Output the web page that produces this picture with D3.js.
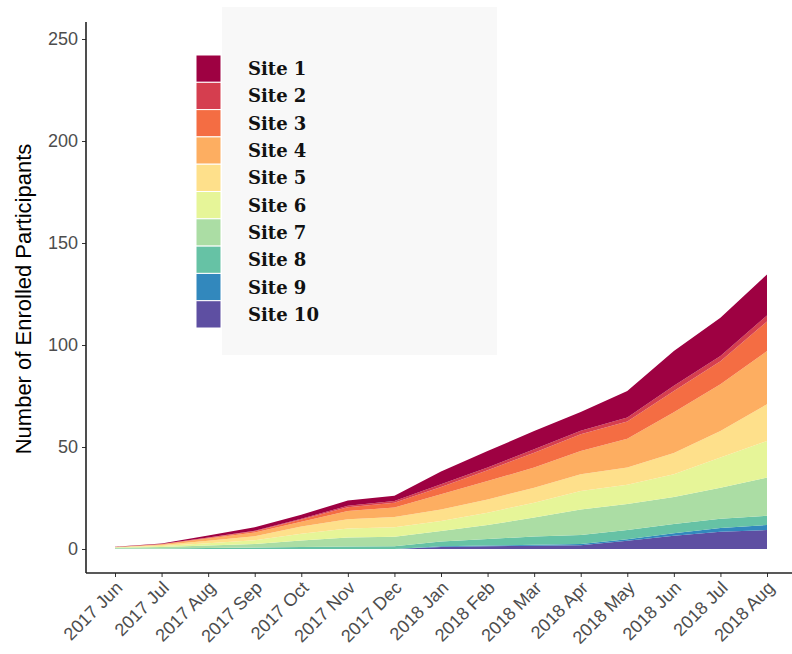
<!DOCTYPE html>
<html>
<head>
<meta charset="utf-8">
<script src="https://cdn.jsdelivr.net/npm/d3@7"></script>
<style>
  body { margin: 0; background: #fff; }
  svg { display: block; }
  .tick text { fill: #4d4d4d; font-family: "Liberation Sans", Arial, sans-serif; }
</style>
</head>
<body>
<svg id="chart" width="792" height="654"></svg>
<script>
// cumulative enrolment per site, one value per month
var months = ["2017 Jun", "2017 Jul", "2017 Aug", "2017 Sep", "2017 Oct", "2017 Nov", "2017 Dec",
              "2018 Jan", "2018 Feb", "2018 Mar", "2018 Apr", "2018 May", "2018 Jun", "2018 Jul", "2018 Aug"];

var site1  = [0.1, 0.3, 1.0, 1.8, 2.0, 2.6, 2.6, 6.3, 8.1, 8.9, 9.2, 13.0, 17.0, 18.8, 20.1];
var site2  = [0, 0, 0.1, 0.2, 0.3, 0.7, 0.8, 1.3, 1.3, 1.7, 1.8, 2.0, 2.5, 2.6, 3.0];
var site3  = [0, 0.1, 0.4, 0.6, 1.2, 1.9, 2.3, 3.6, 5.3, 7.3, 8.2, 8.5, 10.5, 11.3, 14.5];
var site4  = [0.1, 0.4, 1.1, 1.8, 2.3, 4.0, 4.7, 7.4, 9.0, 9.9, 11.4, 14.0, 20.0, 22.9, 26.0];
var site5  = [0.1, 0.4, 1.2, 2.0, 3.5, 4.6, 5.0, 5.7, 6.5, 7.3, 8.2, 8.5, 10.4, 13.0, 18.0];
var site6  = [0.2, 0.5, 1.1, 1.9, 3.3, 4.4, 4.7, 4.9, 6.0, 7.3, 9.0, 9.5, 11.1, 14.8, 18.0];
var site7  = [0.4, 0.7, 1.2, 1.7, 3.2, 4.4, 4.7, 5.1, 6.9, 9.3, 12.5, 12.7, 13.3, 15.2, 18.7];
var site8  = [0.2, 0.3, 0.5, 0.7, 1.0, 1.2, 1.3, 2.4, 3.2, 4.0, 4.5, 4.5, 4.5, 4.5, 4.5];
var site9  = [0, 0, 0, 0, 0, 0, 0, 0.3, 0.4, 0.5, 0.6, 0.8, 1.2, 1.8, 2.5];
var site10 = [0, 0, 0, 0, 0, 0, 0, 1.0, 1.3, 1.6, 1.8, 4.0, 6.5, 8.5, 9.3];

var siteNames = ["Site 1", "Site 2", "Site 3", "Site 4", "Site 5", "Site 6", "Site 7", "Site 8", "Site 9", "Site 10"];
var siteValues = [site1, site2, site3, site4, site5, site6, site7, site8, site9, site10];
var yTicks = [0, 50, 100, 150, 200, 250];

var colors = d3.schemeSpectral[10];

var svg = d3.select("#chart");

// table for the stack
var rows = months.map(function (m, i) {
  var r = { month: m, idx: i };
  siteNames.forEach(function (s, k) { r[s] = siteValues[k][i]; });
  return r;
});

var x = d3.scaleLinear().domain([0, months.length - 1]).range([115, 767]);
var y = d3.scaleLinear().domain([0, 250]).range([549, 39]);

// Site 10 at the bottom, Site 1 on top
var stack = d3.stack().keys(siteNames.slice().reverse());
var layers = stack(rows);

var area = d3.area()
  .x(function (d) { return x(d.data.idx); })
  .y0(function (d) { return y(d[0]); })
  .y1(function (d) { return y(d[1]); });

// legend background
svg.append("rect")
  .attr("x", 222).attr("y", 7)
  .attr("width", 275).attr("height", 348)
  .attr("fill", "#f8f8f8");

svg.append("g")
  .selectAll("path")
  .data(layers)
  .enter()
  .append("path")
  .attr("fill", function (d) { return colors[siteNames.indexOf(d.key)]; })
  .attr("d", area);

// axes
var yAxis = d3.axisLeft(y).tickValues(yTicks).tickSize(4).tickPadding(4);
var gy = svg.append("g").attr("transform", "translate(86,0)").call(yAxis);
gy.select(".domain").remove();
gy.selectAll(".tick line").attr("stroke", "#333");
gy.selectAll(".tick text").attr("font-size", 18);

var xAxis = d3.axisBottom(x).tickValues(d3.range(months.length))
  .tickFormat(function (i) { return months[i]; }).tickSize(4);
var gx = svg.append("g").attr("transform", "translate(0,573)").call(xAxis);
gx.select(".domain").remove();
gx.selectAll(".tick line").attr("stroke", "#333");
gx.selectAll(".tick text")
  .attr("font-size", 18)
  .attr("text-anchor", "end")
  .attr("dy", null)
  .attr("y", null)
  .attr("transform", "translate(8,16) rotate(-45)");

svg.append("line")
  .attr("x1", 86).attr("x2", 86).attr("y1", 22).attr("y2", 573)
  .attr("stroke", "#222").attr("stroke-width", 1.6);
svg.append("line")
  .attr("x1", 86).attr("x2", 800).attr("y1", 573).attr("y2", 573)
  .attr("stroke", "#222").attr("stroke-width", 1.6);

svg.append("text")
  .attr("transform", "translate(31,299) rotate(-90)")
  .attr("text-anchor", "middle")
  .attr("font-family", "Liberation Sans, Arial, sans-serif")
  .attr("font-size", 22)
  .attr("fill", "#000")
  .text("Number of Enrolled Participants");

// legend
var keyH = 27.3;
var leg = svg.append("g").attr("transform", "translate(196,55)");
leg.selectAll("rect")
  .data(siteNames)
  .enter().append("rect")
  .attr("x", 0)
  .attr("y", function (d, i) { return i * keyH; })
  .attr("width", 25)
  .attr("height", keyH)
  .attr("fill", function (d, i) { return colors[i]; })
  .attr("stroke", "#fff")
  .attr("stroke-width", 1);
leg.selectAll("text")
  .data(siteNames)
  .enter().append("text")
  .attr("x", 52)
  .attr("y", function (d, i) { return i * keyH + keyH / 2; })
  .attr("dy", "0.36em")
  .attr("font-family", "DejaVu Serif, serif")
  .attr("font-weight", "bold")
  .attr("font-size", 18)
  .attr("fill", "#111")
  .text(function (d) { return d; });
</script>
</body>
</html>
